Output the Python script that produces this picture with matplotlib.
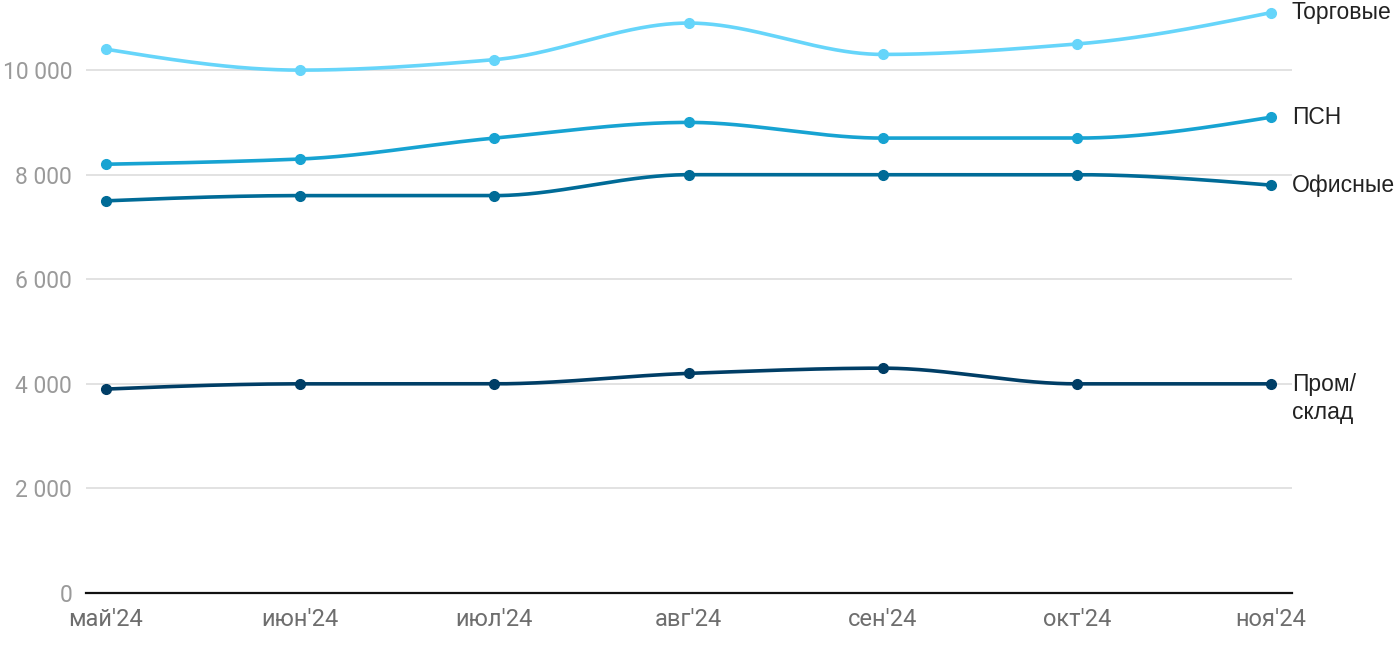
import numpy as np
import matplotlib.pyplot as plt

# data
months = ["май'24", "июн'24", "июл'24", "авг'24", "сен'24", "окт'24", "ноя'24"]
trade = [10400, 10000, 10200, 10900, 10300, 10500, 11100]
psn = [8200, 8300, 8700, 9000, 8700, 8700, 9100]
office = [7500, 7600, 7600, 8000, 8000, 8000, 7800]
industrial = [3900, 4000, 4000, 4200, 4300, 4000, 4000]

series = [
    ("Торговые", trade, "#66d5fa", 0),
    ("ПСН", psn, "#17a3d2", 0),
    ("Офисные", office, "#006b97", 0),
    ("Пром/\nсклад", industrial, "#003e66", -10.5),
]


def pchip(x, y, xs):
    # monotone cubic (Fritsch-Carlson), like the smooth curves in the original
    x = np.asarray(x, float)
    y = np.asarray(y, float)
    h = np.diff(x)
    d = np.diff(y) / h
    m = np.zeros_like(y)
    for k in range(1, len(y) - 1):
        if d[k - 1] * d[k] > 0:
            w1 = 2 * h[k] + h[k - 1]
            w2 = h[k] + 2 * h[k - 1]
            m[k] = (w1 + w2) / (w1 / d[k - 1] + w2 / d[k])
    # keep the ends gentle
    m[0] = 0.5 * (3 * d[0] - m[1]) if d[0] * (3 * d[0] - m[1]) > 0 else 0
    m[-1] = 0.5 * (3 * d[-1] - m[-2]) if d[-1] * (3 * d[-1] - m[-2]) > 0 else 0
    idx = np.clip(np.searchsorted(x, xs) - 1, 0, len(x) - 2)
    t = (xs - x[idx]) / h[idx]
    h00 = 2 * t**3 - 3 * t**2 + 1
    h10 = t**3 - 2 * t**2 + t
    h01 = -2 * t**3 + 3 * t**2
    h11 = t**3 - t**2
    return h00 * y[idx] + h10 * h[idx] * m[idx] + h01 * y[idx + 1] + h11 * h[idx] * m[idx + 1]


fig = plt.figure(figsize=(14, 6.5), dpi=100)
ax = fig.add_axes([0.0614, 0.0877, 0.8615, 0.909])

x = np.arange(len(months))
xs = np.linspace(0, len(months) - 1, 600)

for name, vals, color, dy in series:
    ax.plot(xs, pchip(x, vals, xs), color=color, lw=2.6, solid_capstyle='round', zorder=3)
    ax.plot(x, vals, 'o', color=color, ms=7, zorder=4)
    ax.annotate(name, (x[-1], vals[-1]), xytext=(15, dy), textcoords='offset points',
                va='center', ha='left', fontsize=16.5, color='#222222',
                family='Liberation Sans', linespacing=1.25, annotation_clip=False)

ax.set_xlim(-0.103, 6.108)
ax.set_ylim(0, 11300)
ax.set_yticks(range(0, 10001, 2000))
ax.set_yticklabels([f"{v:,}".replace(",", " ") for v in range(0, 10001, 2000)])
ax.set_xticks(x)
ax.set_xticklabels(months)

ax.grid(axis='y', color='#e2e2e2', lw=1.4)
ax.set_axisbelow(True)
for s in ['top', 'right', 'left']:
    ax.spines[s].set_visible(False)
ax.spines['bottom'].set_color('#111111')
ax.spines['bottom'].set_linewidth(1.6)
ax.spines['bottom'].set_zorder(5)

ax.tick_params(axis='y', length=0, pad=10, labelsize=16.5, labelcolor='#9a9a9a')
ax.tick_params(axis='x', length=0, pad=11, labelsize=17, labelcolor='#6e6e6e')
for lbl in ax.get_xticklabels() + ax.get_yticklabels():
    lbl.set_family('Roboto')

fig.savefig('out.png', dpi=100)
